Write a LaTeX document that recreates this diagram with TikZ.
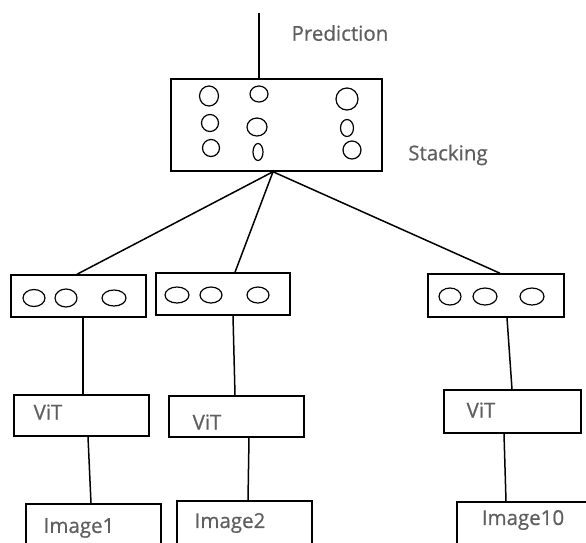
\documentclass[tikz,border=0pt]{standalone}
\usepackage{fontspec}
\setmainfont{Open Sans}[FakeBold=0.6]
\definecolor{labelgray}{RGB}{95,95,95}
\tikzset{
  box/.style={draw, line width=1.5pt, rectangle, inner sep=0pt},
  wire/.style={line width=1.5pt},
  dot/.style={line width=1.2pt},
  lbl/.style={text=labelgray, font=\fontsize{20.5}{24}\selectfont, inner sep=0pt},
}
\begin{document}
\begin{tikzpicture}[x=1pt, y=-1pt]
\useasboundingbox (0,0) rectangle (586,542);
\clip (0,0) rectangle (586,542);
\fill[white] (0,0) rectangle (586,542);

% stacking layer
\node[box, minimum width=211pt, minimum height=92pt] (stack) at (276.5,125) {};
\coordinate (out) at (259,13);
\node[lbl] (pred) at (340,33) {Prediction};
\node[lbl] (stacklbl) at (448,155) {Stacking};
\draw[wire] ([xshift=-17.5pt]stack.north) -- (out);

% neurons of the stacking layer
\foreach \cx/\cy/\rx/\ry in {209/96/9.5/10, 259/94/9/8, 347/99/11/11,
                             210/123/8.5/8.5, 257/127/10/9, 347/128/6.5/8.5,
                             211/148/8.5/8.5, 258/152/5/8.5, 352/150/9/9}
  \draw[dot] (\cx,\cy) ellipse [x radius=\rx pt, y radius=\ry pt];

% output layers of the three branches
\node[box, minimum width=135pt, minimum height=42pt] (out1) at (78.5,296) {};
\node[box, minimum width=134pt, minimum height=42pt] (out2) at (223,294) {};
\node[box, minimum width=136pt, minimum height=43pt] (out3) at (496,295.5) {};

\foreach \cx/\cy/\rx/\ry in {34/298/11/8.5, 66/298/11/9, 114/298/12/8,
                             177/295/12/8, 211/295/11/8, 258/295/11/8,
                             450/296.5/11/8.5, 485/296.5/12/8.5, 532/296.5/12/8.5}
  \draw[dot] (\cx,\cy) ellipse [x radius=\rx pt, y radius=\ry pt];

% ViT encoders
\node[box, minimum width=135pt, minimum height=41pt] (vit1) at (81.5,415.5) {};
\node[box, minimum width=135pt, minimum height=41pt] (vit2) at (236.5,416.5) {};
\node[box, minimum width=137pt, minimum height=43pt] (vit3) at (512.5,411.5) {};
\node[lbl] (vitlbl1) at (48,412) {ViT};
\node[lbl] (vitlbl2) at (207,422) {ViT};
\node[lbl] (vitlbl3) at (481,410) {ViT};

% input images
\node[box, minimum width=135pt, minimum height=56pt] (img1) at (93.5,532) {};
\node[box, minimum width=135pt, minimum height=59pt] (img2) at (244.5,530.5) {};
\node[box, minimum width=153pt, minimum height=58pt] (img10) at (533.5,531) {};
\node[lbl] (imglbl1) at (79,528) {Image1};
\node[lbl] (imglbl2) at (230,523) {Image2};
\node[lbl] (imglbl10) at (523,520) {Image10};

% connections
\draw[wire] ([xshift=-3.5pt]stack.south) -- ([xshift=-1.5pt]out1.north);
\draw[wire] ([xshift=-3.5pt]stack.south) -- ([xshift=12pt]out2.north);
\draw[wire] ([xshift=-3.5pt]stack.south) -- ([xshift=4pt]out3.north);

\draw[wire] ([xshift=4.5pt]out1.south) -- ([xshift=1.5pt]vit1.north);
\draw[wire] ([xshift=10pt]out2.south) -- ([xshift=-1.5pt]vit2.north);
\draw[wire] ([xshift=11pt]out3.south) -- ([xshift=-0.5pt]vit3.north);

\draw[wire] ([xshift=6.5pt]vit1.south) -- ([xshift=-2.5pt]img1.north);
\draw[wire] ([xshift=12.5pt]vit2.south) -- ([xshift=3.5pt]img2.north);
\draw[wire] ([xshift=-8.5pt]vit3.south) -- ([xshift=-27.5pt]img10.north);
\end{tikzpicture}
\end{document}
